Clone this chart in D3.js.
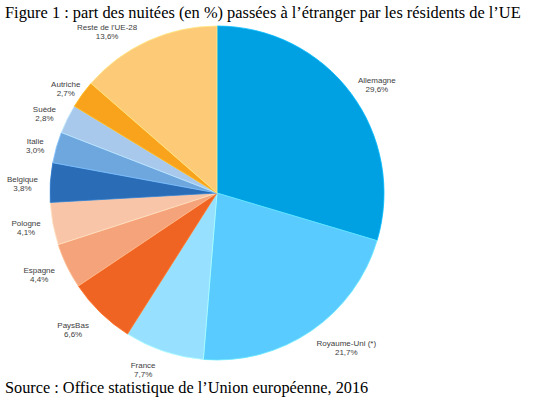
<!DOCTYPE html>
<html><head><meta charset="utf-8">
<script src="https://cdn.jsdelivr.net/npm/d3@7"></script>
<style>
html,body{margin:0;padding:0;background:#fff;}
svg{display:block;}
</style></head>
<body>
<svg id="chart" width="538" height="402"></svg>
<script>
const categories = ["Allemagne","Royaume-Uni (*)","France","PaysBas","Espagne","Pologne","Belgique","Italie","Suède","Autriche","Reste de l'UE-28"];
const values = [29.6,21.7,7.7,6.6,4.4,4.1,3.8,3.0,2.8,2.7,13.6];
const colors = ["#00a1e2","#5acbff","#97e0ff","#f06423","#f5a37b","#f8c5a9","#2a6cb5","#6ea7de","#a8c9ec","#f8a31b","#fdcb77"];
const title = "Figure 1 : part des nuitées (en %) passées à l’étranger par les résidents de l’UE";
const source = "Source : Office statistique de l’Union européenne, 2016";
// label placement tweaks: angular nudge (degrees) and radial nudge (px)
const labelNudge = [1.1,-3,4,1.5,1,0.5,-0.5,-1,-1,-0.6,-7];
const labelRadial = [-2.5,3,0,5,0,-1,-1,-1,-1,-9,0];

const svg = d3.select("#chart");
const cx = 217, cy = 193, r = 167;
const serif = "'Liberation Serif','Times New Roman',serif";

svg.append("text").attr("x",5).attr("y",18)
  .attr("font-family",serif).attr("font-size",16.4).attr("fill","#000").text(title);
svg.append("text").attr("x",5).attr("y",393)
  .attr("font-family",serif).attr("font-size",16.3).attr("fill","#000").text(source);

const pie = d3.pie().sort(null).value(d=>d);
const arcs = pie(values);
const arc = d3.arc().innerRadius(0).outerRadius(r);

const g = svg.append("g").attr("transform",`translate(${cx},${cy})`);
g.selectAll("path").data(arcs).join("path")
  .attr("d",arc)
  .attr("fill",(d,i)=>colors[i])
  .attr("stroke",(d,i)=>d3.color(colors[i]).brighter(0.4))
  .attr("stroke-width",0.8)
  .attr("stroke-linejoin","round");

const lab = g.selectAll("g.lab").data(arcs).join("g").attr("class","lab");
const R = 180, h = 20;
lab.each(function(d,i){
  const a = (d.startAngle+d.endAngle)/2 + labelNudge[i]*Math.PI/180;
  const s = Math.sin(a), c = Math.cos(a);
  const sel = d3.select(this);
  const t1 = sel.append("text").attr("text-anchor","middle")
    .attr("font-family","'Liberation Sans',Arial,sans-serif").attr("font-size",8)
    .attr("fill","#404040");
  t1.append("tspan").attr("x",0).attr("dy",0).text(categories[i]);
  t1.append("tspan").attr("x",0).attr("dy",9).text(values[i].toFixed(1).replace(".",",")+"%");
  const bw = t1.node().getBBox().width;
  const x = (R + bw/2)*s + labelRadial[i]*s;
  const y = -(R*c) - (h/2)*c - labelRadial[i]*c;
  sel.attr("transform",`translate(${x},${y-0.5})`);
});
</script>
</body></html>
